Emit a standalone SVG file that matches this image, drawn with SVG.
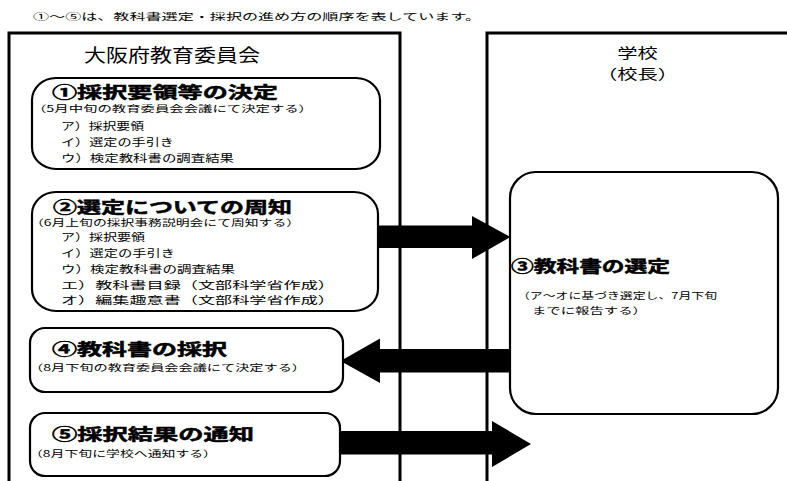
<svg xmlns="http://www.w3.org/2000/svg" width="787" height="481" viewBox="0 0 787 481">
<style>
text{font-family:"Noto Sans CJK JP","Noto Sans CJK SC",sans-serif;fill:#000}
.note{font-size:9.5px}
.head{font-size:18px}
.school{font-size:14px}
.ttl{font-size:16px;font-weight:bold;stroke:#000;stroke-width:0.5}
.sub{font-size:9px}
.item{font-size:10.5px}
.box{fill:#fff;stroke:#000;stroke-width:2.2}
.frame{fill:none;stroke:#000;stroke-width:3}
.arrow{fill:#000;stroke:none}
</style>
<rect width="787" height="481" fill="#fff"/>
<text class="note" x="33" y="19.6" textLength="448" lengthAdjust="spacingAndGlyphs">①～⑤は、教科書選定・採択の進め方の順序を表しています。</text>
<g id="frame">
<path class="frame" d="M9,481 V33 H400 V481"/>
<path class="frame" d="M487,481 V33 H787"/>
<text class="head" x="84" y="62.3" textLength="176" lengthAdjust="spacingAndGlyphs">大阪府教育委員会</text>
<text class="school" text-anchor="middle" transform="matrix(1.45 0 0 1 637.5 0)"><tspan x="0" y="58.5">学校</tspan><tspan x="0" y="79">（校長）</tspan></text>
</g>
<g id="connectors">
<polygon class="arrow" points="378,225.5 472,225.5 472,216 510.5,237 472,259 472,248 378,248"/>
<polygon class="arrow" points="509,349 380,349 380,338.5 340.5,361 380,383 380,372.5 509,372.5"/>
<polygon class="arrow" points="340,431 492,431 492,421 531,444 492,467 492,454.5 340,454.5"/>
</g>
<g id="box1">
<rect class="box" x="32" y="78" width="348" height="91" rx="24" ry="22"/>
<text class="ttl" x="52" y="98" textLength="226" lengthAdjust="spacingAndGlyphs">①採択要領等の決定</text>
<text class="sub" x="32" y="112.4" textLength="281" lengthAdjust="spacingAndGlyphs">（5月中旬の教育委員会会議にて決定する）</text>
<text class="item" x="61" y="130" textLength="83" lengthAdjust="spacingAndGlyphs">ア）採択要領</text>
<text class="item" x="61" y="146" textLength="113" lengthAdjust="spacingAndGlyphs">イ）選定の手引き</text>
<text class="item" x="61" y="162" textLength="173" lengthAdjust="spacingAndGlyphs">ウ）検定教科書の調査結果</text>
</g>
<g id="box2">
<rect class="box" x="32" y="192" width="346" height="119" rx="24" ry="22"/>
<text class="ttl" x="53" y="212.6" textLength="239" lengthAdjust="spacingAndGlyphs">②選定についての周知</text>
<text class="sub" x="30" y="226.4" textLength="270" lengthAdjust="spacingAndGlyphs">（6月上旬の採択事務説明会にて周知する）</text>
<text class="item" x="61" y="241" textLength="84" lengthAdjust="spacingAndGlyphs">ア）採択要領</text>
<text class="item" x="61" y="257" textLength="114" lengthAdjust="spacingAndGlyphs">イ）選定の手引き</text>
<text class="item" x="61" y="273" textLength="174" lengthAdjust="spacingAndGlyphs">ウ）検定教科書の調査結果</text>
<text class="item" x="61" y="289" textLength="274" lengthAdjust="spacingAndGlyphs">エ）教科書目録（文部科学省作成）</text>
<text class="item" x="61" y="304" textLength="274" lengthAdjust="spacingAndGlyphs">オ）編集趣意書（文部科学省作成）</text>
</g>
<g id="box3">
<rect class="box" x="510" y="172" width="268" height="242" rx="26" ry="26"/>
<text class="ttl" x="511" y="271.6" textLength="159" lengthAdjust="spacingAndGlyphs">③教科書の選定</text>
<text class="sub" x="517" y="299.4" textLength="200" lengthAdjust="spacingAndGlyphs">（ア～オに基づき選定し、7月下旬</text>
<text class="sub" x="532" y="314.4" textLength="115" lengthAdjust="spacingAndGlyphs">までに報告する）</text>
</g>
<g id="box4">
<rect class="box" x="30" y="328" width="313" height="64" rx="15" ry="15"/>
<text class="ttl" x="52" y="355" textLength="175" lengthAdjust="spacingAndGlyphs">④教科書の採択</text>
<text class="sub" x="29" y="371.4" textLength="277" lengthAdjust="spacingAndGlyphs">（8月下旬の教育委員会会議にて決定する）</text>
</g>
<g id="box5">
<rect class="box" x="30" y="413" width="310" height="63" rx="15" ry="15"/>
<text class="ttl" x="52" y="440" textLength="202" lengthAdjust="spacingAndGlyphs">⑤採択結果の通知</text>
<text class="sub" x="29" y="457.4" textLength="188" lengthAdjust="spacingAndGlyphs">（8月下旬に学校へ通知する）</text>
</g>
</svg>
